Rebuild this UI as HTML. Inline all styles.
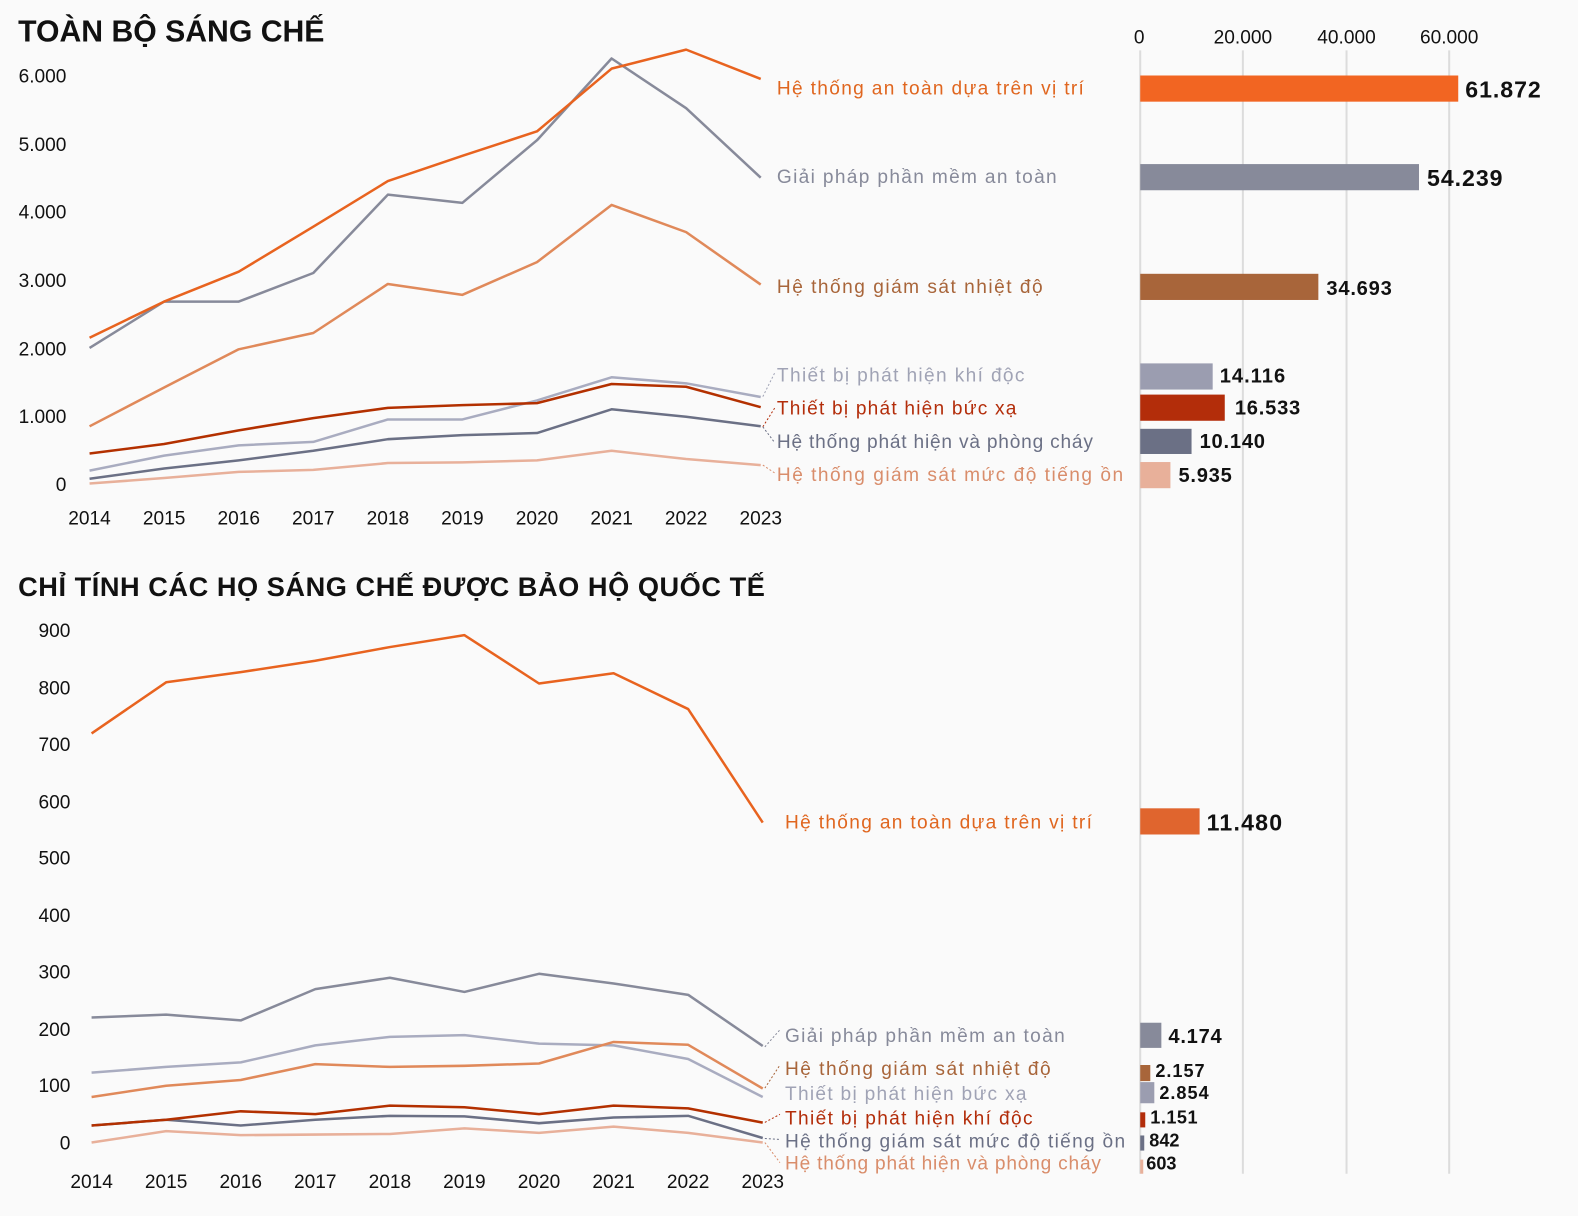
<!DOCTYPE html>
<html><head><meta charset="utf-8"><style>
html,body{margin:0;padding:0;background:#fafafa;}
svg{display:block;}
text{font-family:"Liberation Sans","DejaVu Sans",sans-serif;}
</style></head><body>
<svg id="s" width="1578" height="1216" viewBox="0 0 1568 1208" preserveAspectRatio="none" xmlns="http://www.w3.org/2000/svg">
<rect width="1568" height="1208" fill="#fafafa"/>
<g stroke="#dcdcdc" stroke-width="2">
<line x1="1133" y1="50" x2="1133" y2="1166"/>
<line x1="1235" y1="50" x2="1235" y2="1166"/>
<line x1="1338" y1="50" x2="1338" y2="1166"/>
<line x1="1440" y1="50" x2="1440" y2="1166"/>
</g>
<g font-size="19" fill="#111" text-anchor="middle">
<text x="1132" y="43">0</text><text x="1235" y="43">20.000</text><text x="1338" y="43">40.000</text><text x="1440" y="43">60.000</text>
</g>
<text x="18" y="41" font-size="30" font-weight="bold" fill="#111">TOÀN BỘ SÁNG CHẾ</text>
<text x="18" y="592" font-size="27" font-weight="bold" fill="#111" textLength="742">CHỈ TÍNH CÁC HỌ SÁNG CHẾ ĐƯỢC BẢO HỘ QUỐC TẾ</text>
<g font-size="19" fill="#111" text-anchor="end">
<text x="66" y="82">6.000</text><text x="66" y="150">5.000</text><text x="66" y="217">4.000</text><text x="66" y="285">3.000</text><text x="66" y="353">2.000</text><text x="66" y="420">1.000</text><text x="66" y="488">0</text>
<text x="70" y="633">900</text><text x="70" y="690">800</text><text x="70" y="746">700</text><text x="70" y="803">600</text><text x="70" y="859">500</text><text x="70" y="916">400</text><text x="70" y="972">300</text><text x="70" y="1029">200</text><text x="70" y="1085">100</text><text x="70" y="1142">0</text>
</g>
<g id="yr1" font-size="19" fill="#111" text-anchor="middle"></g>
<g id="yr2" font-size="19" fill="#111" text-anchor="middle"></g>
<g id="lines" fill="none" stroke-width="2.5" stroke-linejoin="round"></g>
<g fill="none" stroke-width="1" stroke-dasharray="2,2">
<line x1="758" y1="394" x2="770" y2="370" stroke="#a0a3b5"/>
<line x1="758" y1="424" x2="770" y2="405" stroke="#b32d0a"/>
<line x1="758" y1="424" x2="770" y2="440" stroke="#6b7085"/>
<line x1="758" y1="462" x2="770" y2="470" stroke="#d98d6b"/>
<line x1="760" y1="1040" x2="775" y2="1023" stroke="#878a9a"/>
<line x1="760" y1="1081" x2="775" y2="1058" stroke="#a8653a"/>
<line x1="760" y1="1115" x2="775" y2="1107" stroke="#b32d0a"/>
<line x1="760" y1="1131" x2="775" y2="1132" stroke="#6b7085"/>
<line x1="760" y1="1135" x2="775" y2="1155" stroke="#d98d6b"/>
</g>
<g font-size="19">
<text x="772" y="94" fill="#e0661f" textLength="305">Hệ thống an toàn dựa trên vị trí</text>
<text x="772" y="182" fill="#878a9a" textLength="278">Giải pháp phần mềm an toàn</text>
<text x="772" y="291" fill="#a8653a" textLength="264">Hệ thống giám sát nhiệt độ</text>
<text x="772" y="379" fill="#a0a3b5" textLength="246">Thiết bị phát hiện khí độc</text>
<text x="772" y="412" fill="#b32d0a" textLength="238">Thiết bị phát hiện bức xạ</text>
<text x="772" y="445" fill="#6b7085" textLength="314">Hệ thống phát hiện và phòng cháy</text>
<text x="772" y="478" fill="#d98d6b" textLength="344">Hệ thống giám sát mức độ tiếng ồn</text>
<text x="780" y="823" fill="#e0661f" textLength="305">Hệ thống an toàn dựa trên vị trí</text>
<text x="780" y="1035" fill="#878a9a" textLength="278">Giải pháp phần mềm an toàn</text>
<text x="780" y="1068" fill="#a8653a" textLength="264">Hệ thống giám sát nhiệt độ</text>
<text x="780" y="1093" fill="#a0a3b5" textLength="240">Thiết bị phát hiện bức xạ</text>
<text x="780" y="1117" fill="#b32d0a" textLength="246">Thiết bị phát hiện khí độc</text>
<text x="780" y="1140" fill="#6b7085" textLength="338">Hệ thống giám sát mức độ tiếng ồn</text>
<text x="780" y="1162" fill="#d98d6b" textLength="314">Hệ thống phát hiện và phòng cháy</text>
</g>
<g>
<rect x="1133" y="75" width="316" height="26" fill="#f26522"/>
<rect x="1133" y="163" width="277" height="26" fill="#878a9a"/>
<rect x="1133" y="272" width="177" height="26" fill="#a8653a"/>
<rect x="1133" y="361" width="72" height="26" fill="#9b9db0"/>
<rect x="1133" y="392" width="84" height="26" fill="#b32d0a"/>
<rect x="1133" y="426" width="51" height="25" fill="#6b7085"/>
<rect x="1133" y="459" width="30" height="26" fill="#e8b09a"/>
<rect x="1133" y="803" width="59" height="26" fill="#e0652e"/>
<rect x="1133" y="1016" width="21" height="25" fill="#878a9a"/>
<rect x="1133" y="1058" width="10" height="16" fill="#a8653a"/>
<rect x="1133" y="1075" width="14" height="21" fill="#9b9db0"/>
<rect x="1133" y="1105" width="5" height="15" fill="#b32d0a"/>
<rect x="1133" y="1128" width="4" height="15" fill="#6b7085"/>
<rect x="1133" y="1152" width="3" height="14" fill="#e8b09a"/>
</g>
<g font-weight="bold" fill="#111">
<text x="1456" y="97" font-size="23" textLength="75">61.872</text>
<text x="1418" y="185" font-size="23" textLength="75">54.239</text>
<text x="1318" y="293" font-size="20" textLength="65">34.693</text>
<text x="1212" y="380" font-size="20" textLength="65">14.116</text>
<text x="1227" y="412" font-size="20" textLength="65">16.533</text>
<text x="1192" y="445" font-size="20" textLength="65">10.140</text>
<text x="1171" y="479" font-size="20" textLength="53">5.935</text>
<text x="1199" y="825" font-size="23" textLength="75">11.480</text>
<text x="1161" y="1036" font-size="20" textLength="53">4.174</text>
<text x="1148" y="1070" font-size="18" textLength="49">2.157</text>
<text x="1152" y="1092" font-size="18" textLength="49">2.854</text>
<text x="1143" y="1116" font-size="18" textLength="47">1.151</text>
<text x="1142" y="1139" font-size="18">842</text>
<text x="1139" y="1162" font-size="18">603</text>
</g>
</svg>
<script>
(function(){
var NS="http://www.w3.org/2000/svg";
function el(p,t,a,tx){var e=document.createElementNS(NS,t);for(var k in a)e.setAttribute(k,a[k]);if(tx)e.textContent=tx;p.appendChild(e);return e;}
var y1=document.getElementById("yr1"),y2=document.getElementById("yr2"),L=document.getElementById("lines");
for(var i=0;i<10;i++){el(y1,"text",{x:89+i*74.1,y:521},String(2014+i));el(y2,"text",{x:91+i*74.1,y:1180},String(2014+i));}
var s1=[
["#e8b09a",[10,90,180,210,310,320,350,490,370,280]],
["#6b7085",[80,230,350,490,660,720,750,1100,990,850]],
["#a9acc0",[200,420,570,620,950,950,1230,1570,1480,1280]],
["#b33000",[450,590,790,970,1120,1160,1190,1470,1430,1130]],
["#e0895a",[850,1420,1980,2220,2940,2780,3260,4100,3700,2930]],
["#878a9a",[2000,2680,2680,3100,4250,4130,5050,6250,5520,4500]],
["#e8631f",[2150,2680,3120,3780,4450,4820,5180,6100,6380,5950]]];
s1.forEach(function(s){var p=s[1].map(function(v,i){return (89+i*74.1)+","+(481-v*0.06767).toFixed(1)}).join(" ");el(L,"polyline",{points:p,stroke:s[0]});});
var s2=[
["#e8b09a",[0,20,13,14,15,25,17,28,17,0]],
["#6b7085",[30,40,30,40,47,46,34,44,47,8]],
["#b33000",[30,40,55,50,65,62,50,65,60,35]],
["#a9acc0",[123,133,141,171,186,189,174,171,147,80]],
["#e0895a",[80,100,110,138,133,135,139,177,172,95]],
["#878a9a",[220,225,215,270,290,265,297,280,260,170]],
["#e8631f",[720,810,828,848,872,893,808,826,763,563]]];
s2.forEach(function(s){var p=s[1].map(function(v,i){return (91+i*74.1)+","+(1135-v*0.5644).toFixed(1)}).join(" ");el(L,"polyline",{points:p,stroke:s[0]});});
})();
</script>
</body></html>
